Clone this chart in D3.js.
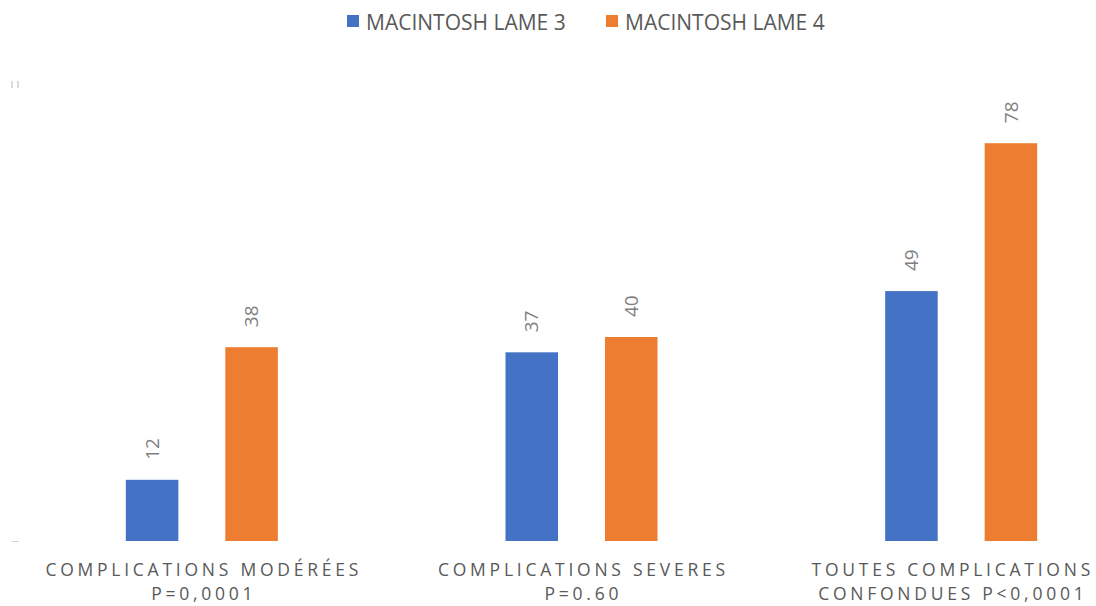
<!DOCTYPE html>
<html>
<head>
<meta charset="utf-8">
<script src="https://cdn.jsdelivr.net/npm/d3@7"></script>
<style>
  body { margin: 0; background: #fff; }
  svg { display: block; font-family: "Open Sans", sans-serif; }
</style>
</head>
<body>
<svg id="chart" width="1096" height="606"></svg>
<script>
// chart data
var categories = ["cat1", "cat2", "cat3"];
var categoryLines = [
  ["COMPLICATIONS MODÉRÉES", "P=0,0001"],
  ["COMPLICATIONS SEVERES", "P=0.60"],
  ["TOUTES COMPLICATIONS", "CONFONDUES P<0,0001"]
];
var seriesNames = ["MACINTOSH LAME 3", "MACINTOSH LAME 4"];
var lame3 = [12, 37, 49];
var lame4 = [38, 40, 78];
var seriesColors = ["#4472C4", "#ED7D31"];

var svg = d3.select("#chart");

var x0 = d3.scaleBand()
           .domain(categories)
           .range([12, 1151])
           .padding(0);

var x1 = d3.scaleBand()
           .domain(seriesNames)
           .range([0, 152])
           .paddingInner(0.472)
           .paddingOuter(0);

var y = d3.scaleLinear()
          .domain([0, 90])
          .range([541, 82]);

var seriesValues = [lame3, lame4];

// faint leftover axis marks
var axisG = svg.append("g");
axisG.append("line")
     .attr("x1", 12).attr("x2", 19)
     .attr("y1", y(0) + 0.5).attr("y2", y(0) + 0.5)
     .attr("stroke", "#d0d0d0").attr("stroke-width", 1);
[12, 18].forEach(function(xx) {
  axisG.append("line")
       .attr("x1", xx).attr("x2", xx)
       .attr("y1", y(90) - 1).attr("y2", y(90) + 6)
       .attr("stroke", "#d0d0d0").attr("stroke-width", 1.5);
});

// bars
seriesNames.forEach(function(s, si) {
  var g = svg.append("g");
  var data = categories.map(function(c, i) { return {cat: c, value: seriesValues[si][i]}; });
  var off = x0.bandwidth() / 2 - 76;

  g.selectAll("rect")
   .data(data)
   .enter()
   .append("rect")
   .attr("x", function(d) { return x0(d.cat) + off + x1(s); })
   .attr("y", function(d) { return y(d.value); })
   .attr("width", x1.bandwidth())
   .attr("height", function(d) { return y(0) - y(d.value); })
   .attr("fill", seriesColors[si]);

  g.selectAll("text")
   .data(data)
   .enter()
   .append("text")
   .attr("transform", function(d) {
     var cx = x0(d.cat) + off + x1(s) + x1.bandwidth() / 2;
     return "translate(" + cx + "," + (y(d.value) - 20) + ") rotate(-90)";
   })
   .attr("text-anchor", "start")
   .attr("dy", "0.35em")
   .attr("fill", "#7f7f7f")
   .style("font-size", "19px")
   .text(function(d) { return d.value; });
});

// category labels
var catG = svg.append("g");
categories.forEach(function(c, i) {
  var cx = x0(c) + x0.bandwidth() / 2 + 1.9;
  var t = catG.append("text")
              .attr("y", 576)
              .attr("text-anchor", "middle")
              .attr("fill", "#595959")
              .style("font-size", "17.5px")
              .style("letter-spacing", "3.75px");
  categoryLines[i].forEach(function(line, li) {
    t.append("tspan")
     .attr("x", cx)
     .attr("dy", li === 0 ? 0 : 24)
     .text(line);
  });
  // keep the label inside the right edge, like the original does
  var bb = t.node().getBBox();
  var over = bb.x + bb.width - 1094;
  if (over > 0) {
    t.selectAll("tspan").attr("x", cx - over);
  }
});

// legend
var legendX = [347, 606];
var legend = svg.append("g");
seriesNames.forEach(function(s, i) {
  legend.append("rect")
        .attr("x", legendX[i]).attr("y", 15)
        .attr("width", 12).attr("height", 12)
        .attr("fill", seriesColors[i]);
  legend.append("text")
        .attr("x", legendX[i] + 19)
        .attr("y", 29.5)
        .attr("fill", "#595959")
        .style("font-size", "21px")
        .text(s);
});
</script>
</body>
</html>
